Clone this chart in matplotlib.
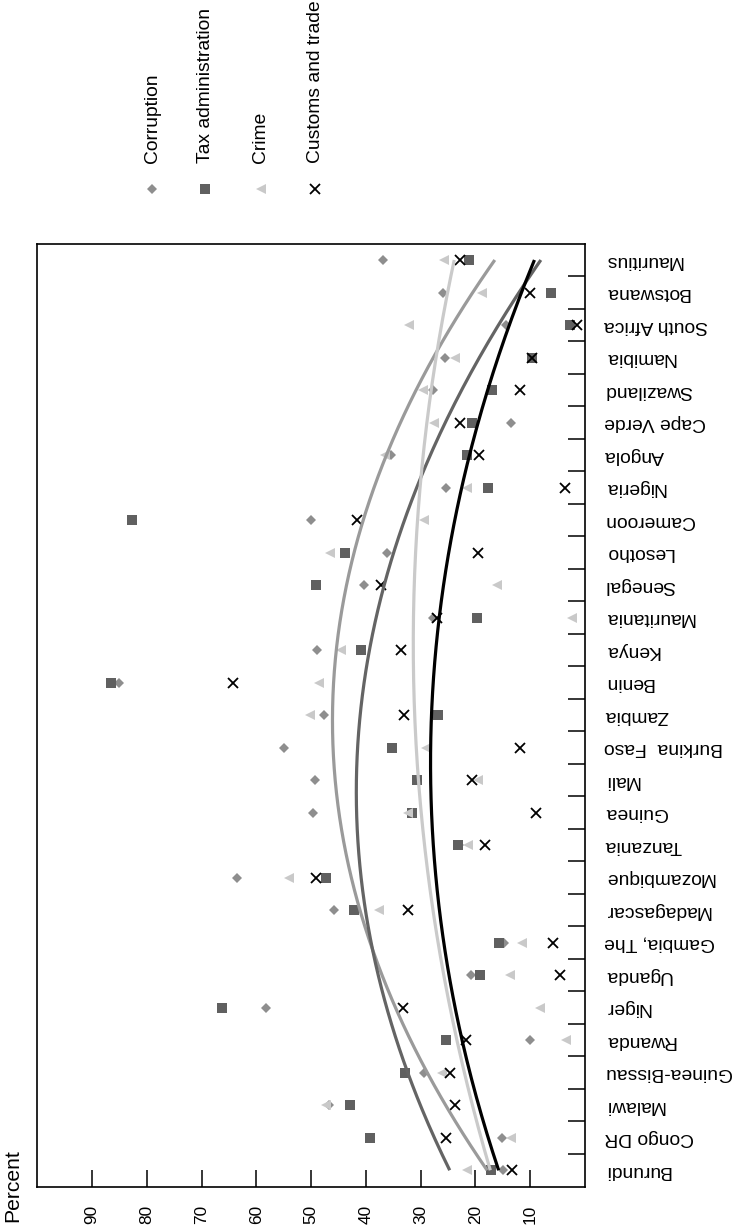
import numpy as np
import matplotlib
matplotlib.use("Agg")
import matplotlib.pyplot as plt
from matplotlib.lines import Line2D
from matplotlib.ticker import FixedLocator

plt.rcParams['font.family'] = ['Liberation Sans', 'DejaVu Sans']

countries = ["Burundi", "Congo DR", "Malawi", "Guinea-Bissau", "Rwanda", "Niger",
             "Uganda", "Gambia, The", "Madagascar", "Mozambique", "Tanzania", "Guinea",
             "Mali", "Burkina  Faso", "Zambia", "Benin", "Kenya", "Mauritania",
             "Senegal", "Lesotho", "Cameroon", "Nigeria", "Angola", "Cape Verde",
             "Swaziland", "Namibia", "South Africa", "Botswana", "Mauritius"]

corruption = [14.9, 15.2, 46.8, 29.4, 10.1, 58.3, 20.9, 14.7, 45.9, 63.6,
              23.0, 49.7, 49.3, 54.9, 47.6, 85.1, 49.0, 27.8, 40.4, 36.1,
              50.0, 25.3, 35.5, 13.5, 27.7, 25.5, 14.4, 25.9, 36.8]
tax_admin = [17.2, 39.3, 42.9, 32.8, 25.3, 66.2, 19.1, 15.7, 42.2, 47.3,
             23.1, 31.6, 30.6, 35.3, 26.8, 86.6, 40.9, 19.8, 49.2, 43.9,
             82.8, 17.7, 21.6, 20.6, 16.9, 9.6, 2.7, 6.2, 21.1]
crime = [21.6, 13.5, 47.3, 26.2, 3.5, 8.2, 13.7, 11.5, 37.7, 54.1,
         21.3, 32.3, 19.5, 29.0, 50.3, 48.5, 44.6, 2.4, 16.1, 46.6,
         29.4, 21.6, 36.5, 27.5, 29.6, 23.8, 32.1, 18.8, 25.7]
customs = [13.4, 25.3, 23.8, 24.7, 21.8, 33.3, 4.5, 5.9, 32.4, 49.2,
           18.2, 8.9, 20.6, 11.8, 33.1, 64.3, 33.6, 27.0, 37.3, 19.5,
           41.7, 3.7, 19.4, 22.8, 11.8, 9.6, 1.5, 10.1, 22.8]

series_names = ["Corruption", "Tax administration", "Crime", "Customs and trade"]
x_ticks = [10, 20, 30, 40, 50, 60, 70, 80, 90]

styles = [
    dict(marker='D', color='#8e8e8e', ms=5.5, mew=0, line='#9a9a9a'),
    dict(marker='s', color='#606060', ms=7, mew=0, line='#646464'),
    dict(marker='<', color='#c9c9c9', ms=7.5, mew=0, line='#cacaca'),
    dict(marker='x', color='#000000', ms=7, mew=1.3, line='#000000'),
]

W, H = 733, 1232
fig = plt.figure(figsize=(W / 100, H / 100), dpi=100)
left, right, top, bottom = 37.3, 585.0, 243.75, 1186.5
ax = fig.add_axes([left / W, (H - bottom) / H, (right - left) / W, (bottom - top) / H])

idx = np.arange(len(countries))
data = [corruption, tax_admin, crime, customs]

for vals, st in zip(data, styles):
    ax.plot(vals, idx, linestyle='none', marker=st['marker'], color=st['color'],
            ms=st['ms'], mew=st['mew'], zorder=2)

# quadratic trend lines for each series
fine = np.linspace(0, len(countries) - 1, 300)
for vals, st in zip(data, styles):
    coef = np.polyfit(idx, vals, 2)
    ax.plot(np.polyval(coef, fine), fine, color=st['line'], lw=2.3, zorder=3,
            solid_capstyle='butt')

ax.set_xlim(100, 0)
ax.set_ylim(-0.5, len(countries) - 0.5)

for s in ax.spines.values():
    s.set_linewidth(1.2)
    s.set_color('black')

ax.set_xticks(x_ticks)
ax.set_xticklabels([str(v) for v in x_ticks], rotation=90, fontsize=12.4)
ax.tick_params(axis='x', direction='in', length=12.5, width=1.1, pad=13)

ax.yaxis.tick_right()
ax.set_yticks(idx)
ax.set_yticklabels(countries, rotation=180, fontsize=13.9, ha='left', va='center')
ax.tick_params(axis='y', which='major', length=0, pad=14)
ax.yaxis.set_minor_locator(FixedLocator(idx[:-1] + 0.5))
ax.tick_params(axis='y', which='minor', direction='in', length=12.5, width=1.1,
               right=True, left=False)

fig.text(13 / W, 1 - 1222 / H, "Percent", rotation=90, ha='center', va='bottom',
         fontsize=15.2)

# legend: rotated labels with their markers underneath
leg_x = [152, 205, 261, 315]
for name, st, lx in zip(series_names, styles, leg_x):
    fig.text(lx / W, 1 - 163 / H, name, rotation=90, ha='center', va='bottom',
             fontsize=13.9)
    fig.add_artist(Line2D([lx / W], [1 - 189 / H], transform=fig.transFigure,
                          linestyle='none', marker=st['marker'], color=st['color'],
                          ms=st['ms'], mew=st['mew']))

fig.savefig("out.png", dpi=100)
